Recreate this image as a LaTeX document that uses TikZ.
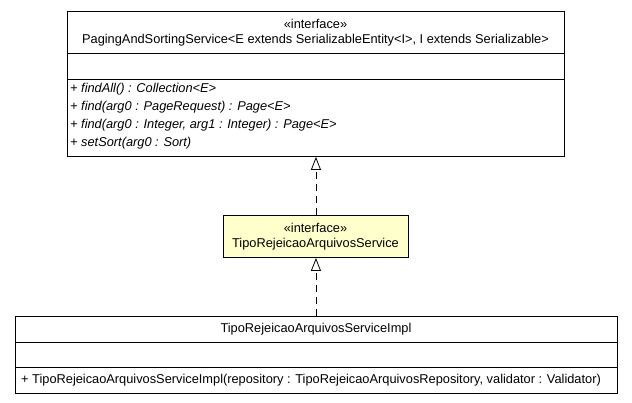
\documentclass[tikz,border=0pt]{standalone}
\usepackage{fontspec}
\setmainfont{Liberation Sans}
\usetikzlibrary{arrows.meta}
\definecolor{ifill}{HTML}{FFFFCC}
\begin{document}
\begin{tikzpicture}[x=1pt,y=-1pt,
  box/.style={draw=black,line width=0.9pt,inner sep=0pt,anchor=north west},
  sep/.style={draw=black,line width=0.9pt},
  txt/.style={font=\fontsize{12.8}{14}\selectfont,inner sep=0pt},
  mtxt/.style={txt,anchor=west},
  realize/.style={line width=0.8pt,dash pattern=on 7pt off 5pt,
    -{Triangle[open,width=10pt,length=13pt,line width=0.8pt]}}]
\useasboundingbox (0,0) rectangle (632,403);
% top interface
\node[box,minimum width=497pt,minimum height=145pt] (psvc) at (67,11) {};
\draw[sep] (67,53) -- (564,53);
\draw[sep] (67,79) -- (564,79);
\node[txt] (psvcst) at (315.5,24) {«interface»};
\node[txt] (psvcnm) at (315.5,40) {PagingAndSortingService<E extends SerializableEntity<I>, I extends Serializable>};
\node[mtxt] (m1) at (70,89) {\itshape + findAll() : Collection<E>};
\node[mtxt] (m2) at (70,107) {\itshape + find(arg0 : PageRequest) : Page<E>};
\node[mtxt] (m3) at (70,125) {\itshape + find(arg0 : Integer, arg1 : Integer) : Page<E>};
\node[mtxt] (m4) at (70,143) {\itshape + setSort(arg0 : Sort)};
% middle interface
\node[box,fill=ifill,minimum width=185pt,minimum height=42pt] (tsvc) at (223,215) {};
\node[txt] (tsvcst) at (315.5,228) {«interface»};
\node[txt] (tsvcnm) at (315.5,244) {TipoRejeicaoArquivosService};
% bottom class
\node[box,minimum width=602pt,minimum height=77pt] (impl) at (15,316) {};
\draw[sep] (15,342) -- (617,342);
\draw[sep] (15,367) -- (617,367);
\node[txt] (implnm) at (316,329) {TipoRejeicaoArquivosServiceImpl};
\node[mtxt] (im1) at (21,380) {+ TipoRejeicaoArquivosServiceImpl(repository : TipoRejeicaoArquivosRepository, validator : Validator)};
% realizations
\draw[realize] (tsvc.north) -- (psvc.south);
\draw[realize] (impl.north -| tsvc.south) -- (tsvc.south);
\end{tikzpicture}
\end{document}
